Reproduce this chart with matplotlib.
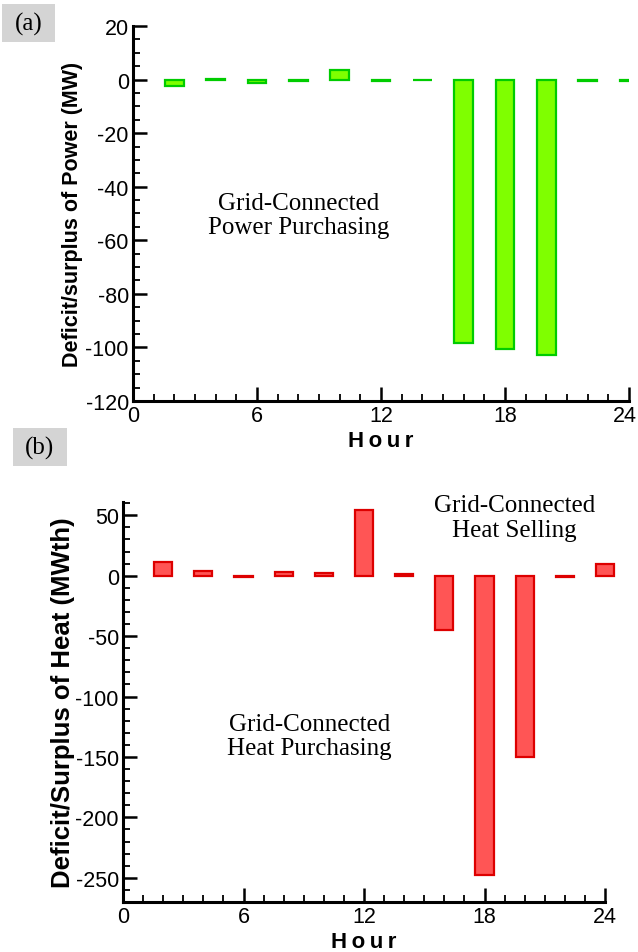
import matplotlib
matplotlib.use("Agg")
import matplotlib.pyplot as plt
from matplotlib.patches import Rectangle
from matplotlib.ticker import MultipleLocator

plt.rcParams["axes.unicode_minus"] = False

# hourly deficit/surplus, one bar every two hours
hours = [2, 4, 6, 8, 10, 12, 14, 16, 18, 20, 22, 24]
power_mw = [-2.5, 0.3, -1.2, -0.5, 3.5, -0.5, -0.3, -98.5, -100.5, -103.0, -0.7, -0.7]
heat_mwth = [11.5, 3.5, -1.0, 3.0, 2.5, 54.0, 1.5, -45.0, -248.0, -150.0, -0.8, 10.0]
hour_ticks = [0, 6, 12, 18, 24]

SANS = ["Liberation Sans", "DejaVu Sans"]
SERIF = "Liberation Serif"
HOUR = "H\u2009o\u2009u\u2009r"
W, H = 638, 953


def style_axis(ax, ylim, ymajor, yminor):
    ax.set_xlim(0, 24)
    ax.set_ylim(*ylim)
    ax.set_xticks(hour_ticks)
    ax.xaxis.set_minor_locator(MultipleLocator(1))
    ax.yaxis.set_major_locator(MultipleLocator(ymajor))
    ax.yaxis.set_minor_locator(MultipleLocator(yminor))
    for side in ("top", "right"):
        ax.spines[side].set_visible(False)
    for side in ("left", "bottom"):
        ax.spines[side].set_linewidth(2.2)
    ax.tick_params(which="major", direction="in", length=10, width=1.8,
                   labelsize=15.5, pad=3)
    ax.tick_params(which="minor", direction="in", length=5, width=1.3)
    for lab in ax.get_xticklabels() + ax.get_yticklabels():
        lab.set_family(SANS)


def panel_tag(fig, text, x0, y0, x1, y1):
    # grey box given in pixels from the top-left corner
    fig.patches.append(Rectangle((x0 / W, 1 - y1 / H), (x1 - x0) / W, (y1 - y0) / H,
                                 transform=fig.transFigure, fc="#d4d4d4", ec="none"))
    fig.text((x0 + x1) / 2 / W, 1 - (y0 + y1) / 2 / H, text, family=SERIF,
             fontsize=18, ha="center", va="center")


fig = plt.figure(figsize=(6.38, 9.53), dpi=100)

# (a) power
ax1 = fig.add_axes([0.2085, 0.5782, 0.7774, 0.3935])
ax1.bar(hours, power_mw, width=0.9, color="#7fff00", edgecolor="#00cc00",
        linewidth=1.6, zorder=3)
style_axis(ax1, (-120, 20), 20, 5)
# the axis ends at the figure edge, so the last hour label is pulled inside
ax1.set_xticklabels([str(h) for h in hour_ticks[:-1]] + [""], family=SANS)
ax1.annotate(str(hour_ticks[-1]), xy=(hour_ticks[-1], 0),
             xycoords=("data", "axes fraction"), xytext=(6, -3),
             textcoords="offset points", ha="right", va="top",
             family=SANS, fontsize=15.5, annotation_clip=False)
ax1.set_xlabel(HOUR, family=SANS, fontsize=16, fontweight="bold", labelpad=3)
ax1.set_ylabel("Deficit/surplus of Power (MW)", family=SANS, fontsize=15.5,
               fontweight="bold", labelpad=2)
ax1.text(8, -50.5, "Grid-Connected\nPower Purchasing", family=SERIF,
         fontsize=18, ha="center", va="center", linespacing=1.15)

# (b) heat
ax2 = fig.add_axes([0.1928, 0.0525, 0.7555, 0.4197])
ax2.bar(hours, heat_mwth, width=0.9, color="#ff5555", edgecolor="#dd0000",
        linewidth=1.6, zorder=3, clip_on=False)
style_axis(ax2, (-270, 61), 50, 10)
ax2.set_xlabel(HOUR, family=SANS, fontsize=16, fontweight="bold", labelpad=3)
ax2.set_ylabel("Deficit/Surplus of Heat (MWth)", family=SANS, fontsize=18.5,
               fontweight="bold", labelpad=0)
ax2.text(19.5, 48, "Grid-Connected\nHeat Selling", family=SERIF,
         fontsize=18, ha="center", va="center", linespacing=1.15)
ax2.text(9.3, -132.5, "Grid-Connected\nHeat Purchasing", family=SERIF,
         fontsize=18, ha="center", va="center", linespacing=1.15)

panel_tag(fig, "(a)", 2, 5, 55, 43)
panel_tag(fig, "(b)", 13, 429, 67, 467)

fig.savefig("out.png", dpi=100)
